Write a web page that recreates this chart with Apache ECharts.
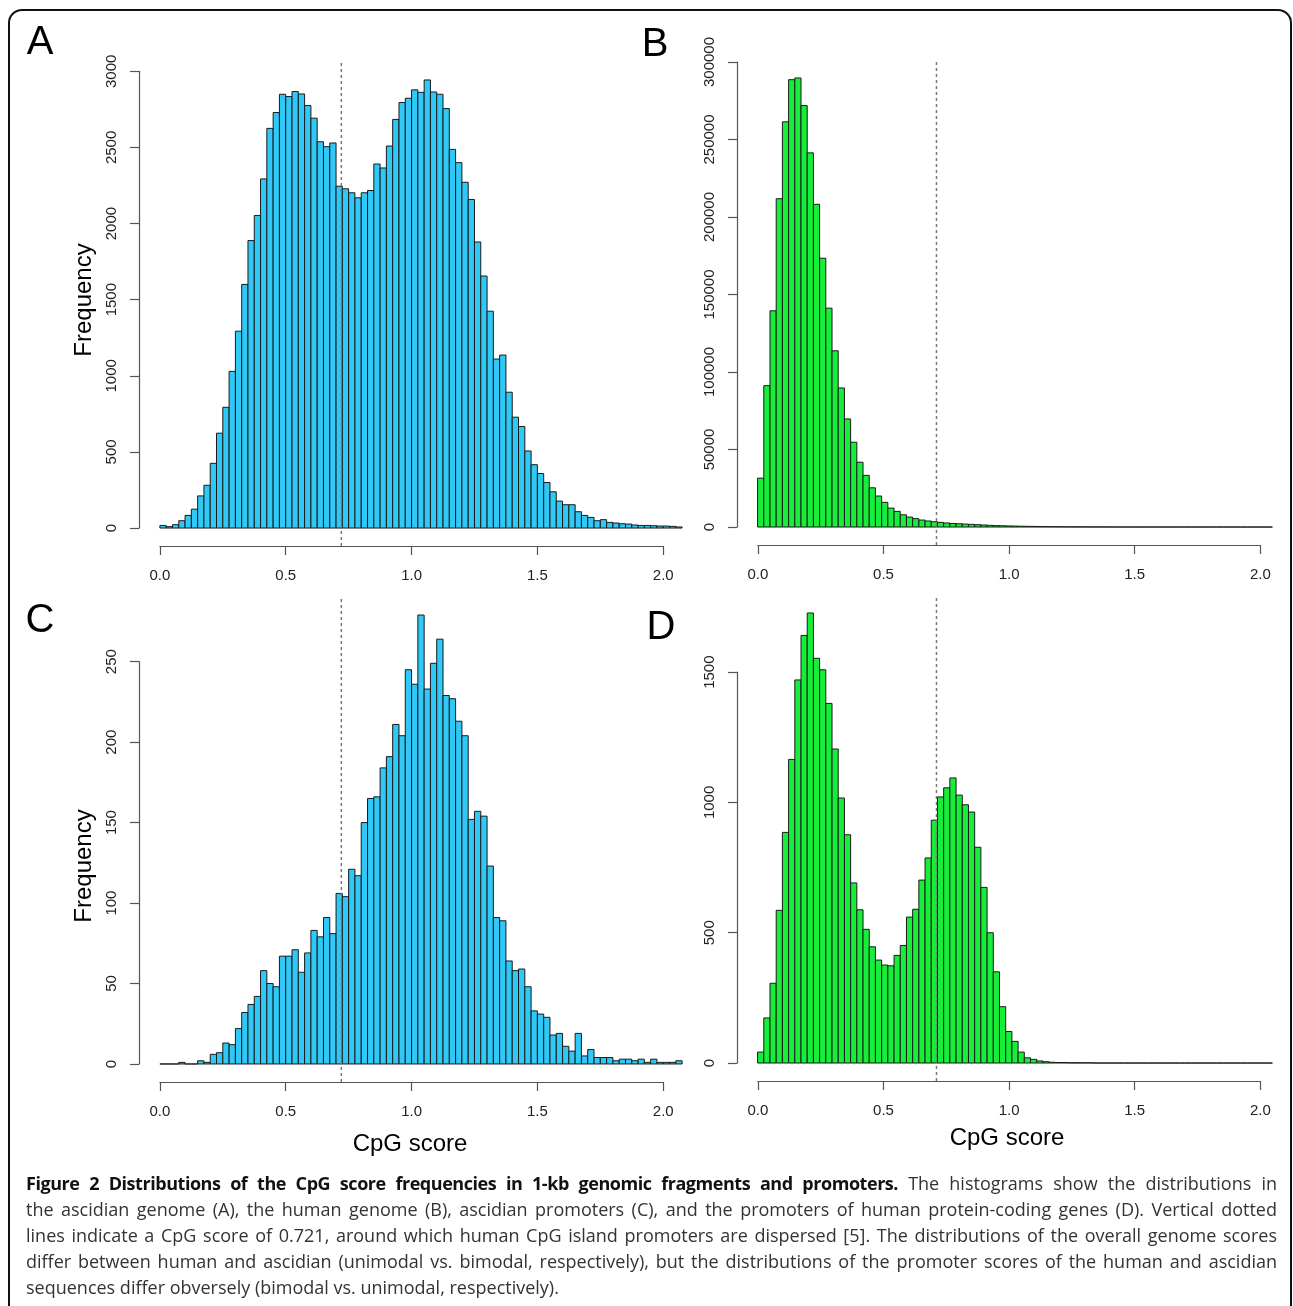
<!DOCTYPE html>
<html>
<head>
<meta charset="utf-8">
<script src="https://cdn.jsdelivr.net/npm/echarts@6/dist/echarts.min.js"></script>
<style>
  html, body { margin: 0; padding: 0; background: #fff; }
  #wrap { position: relative; width: 1293px; height: 1306px; overflow: hidden; }
  #chart { position: absolute; left: 0; top: 0; width: 1293px; height: 1306px; }
  #caption { position: absolute; left: 26px; top: 1170px; width: 1251px;
    font-family: "Open Sans", "Noto Sans", sans-serif; font-size: 18px; line-height: 26px; color: #333; }
  #caption div { text-align: justify; text-align-last: justify; }
  #caption div.last { text-align-last: left; }
  #caption b { color: #111; letter-spacing: -0.45px; }
</style>
</head>
<body>
<div id="wrap">
  <div id="chart"></div>
  <div id="caption">
    <div><b>Figure 2 Distributions of the CpG score frequencies in 1-kb genomic fragments and promoters.</b> The histograms show the distributions in</div>
    <div>the ascidian genome (A), the human genome (B), ascidian promoters (C), and the promoters of human protein-coding genes (D). Vertical dotted</div>
    <div>lines indicate a CpG score of 0.721, around which human CpG island promoters are dispersed [5]. The distributions of the overall genome scores</div>
    <div>differ between human and ascidian (unimodal vs. bimodal, respectively), but the distributions of the promoter scores of the human and ascidian</div>
    <div class="last">sequences differ obversely (bimodal vs. unimodal, respectively).</div>
  </div>
</div>
<script>
// histogram breaks: 0, 0.025, 0.05, ... (83 bins up to 2.075)
var binWidth = 0.025;
var cutoff = 0.721;

// A: ascidian genome
var countsA = [17, 9, 22, 48, 83, 124, 211, 281, 425, 623,
  793, 1029, 1293, 1600, 1888, 2053, 2293, 2625, 2729, 2849,
  2834, 2867, 2851, 2775, 2692, 2537, 2505, 2529, 2245, 2228,
  2202, 2169, 2202, 2217, 2391, 2365, 2509, 2684, 2795, 2823,
  2878, 2862, 2943, 2864, 2849, 2755, 2487, 2400, 2271, 2158,
  1879, 1655, 1424, 1110, 1136, 892, 728, 667, 506, 416,
  358, 299, 238, 177, 153, 153, 107, 83, 70, 48,
  55, 37, 33, 28, 26, 20, 17, 17, 15, 13,
  13, 11, 7];
// B: human genome
var countsB = [31550, 91200, 139500, 211800, 261400, 288600, 289700, 271900, 241400, 208200,
  173400, 141200, 113700, 89700, 69700, 54700, 41800, 33300, 25300, 20000,
  15900, 12200, 10100, 7900, 6400, 5400, 4500, 3900, 3400, 3000,
  2600, 2300, 2100, 1900, 1700, 1500, 1300, 1100, 900, 800,
  700, 600, 520, 450, 380, 320, 270, 230, 190, 160,
  130, 110, 95, 80, 68, 57, 48, 40, 34, 28,
  24, 20, 17, 14, 12, 10, 9, 8, 7, 6,
  5, 5, 4, 4, 3, 3, 3, 2, 2, 2,
  2, 1, 1];
// C: ascidian promoters
var countsC = [0, 0, 0, 1, 0, 0, 2, 1, 6, 7,
  13, 12, 22, 32, 37, 42, 58, 50, 48, 67,
  67, 71, 57, 69, 83, 79, 91, 81, 106, 104,
  121, 117, 150, 165, 166, 184, 191, 211, 204, 245,
  236, 279, 233, 249, 264, 229, 227, 213, 204, 152,
  157, 154, 123, 91, 89, 64, 58, 59, 48, 33,
  31, 29, 18, 19, 11, 8, 19, 5, 9, 4,
  4, 4, 2, 3, 3, 2, 3, 1, 3, 1,
  1, 1, 2];
// D: human protein-coding gene promoters
var countsD = [42, 173, 306, 586, 885, 1165, 1470, 1641, 1727, 1553,
  1509, 1380, 1205, 1017, 876, 691, 588, 513, 446, 395,
  376, 373, 413, 451, 560, 590, 702, 787, 932, 1021,
  1056, 1094, 1028, 991, 963, 828, 674, 500, 350, 216,
  121, 83, 42, 20, 14, 8, 5, 3, 2, 2,
  1, 1, 1, 1, 0, 0, 0, 0, 0, 0,
  0, 0, 0, 0, 0, 0, 0, 0, 0, 0,
  0, 0, 0, 0, 0, 0, 0, 0, 0, 0,
  0, 0, 0];

var xTicks = [0, 0.5, 1.0, 1.5, 2.0];
var yTicksA = [0, 500, 1000, 1500, 2000, 2500, 3000];
var yTicksB = [0, 50000, 100000, 150000, 200000, 250000, 300000];
var yTicksC = [0, 50, 100, 150, 200, 250];
var yTicksD = [0, 500, 1000, 1500];

var blue = '#30c8f6';
var green = '#16ee3a';
var axisCol = '#555';
var font = '"Liberation Sans", Arial, sans-serif';

var panels = [
  { letter: 'A', counts: countsA, color: blue, box: [139, 62, 564, 484], yr: [-118, 3061], yTicks: yTicksA, lx: 40, ly: 43 },
  { letter: 'B', counts: countsB, color: green, box: [737, 60, 563, 485], yr: [-11600, 301300], yTicks: yTicksB, lx: 655, ly: 45 },
  { letter: 'C', counts: countsC, color: blue, box: [139, 597, 564, 485], yr: [-11.2, 290.2], yTicks: yTicksC, lx: 40, ly: 621 },
  { letter: 'D', counts: countsD, color: green, box: [737, 595, 563, 486], yr: [-69, 1796], yTicks: yTicksD, lx: 661, ly: 628 }
];
var xr = [-0.083, 2.158];

function pxX(p, v) { return p.box[0] + p.box[2] * (v - xr[0]) / (xr[1] - xr[0]); }
function pxY(p, v) { return p.box[1] + p.box[3] * (p.yr[1] - v) / (p.yr[1] - p.yr[0]); }

var grids = [], xAxes = [], yAxes = [], series = [], graphics = [];

panels.forEach(function (p, i) {
  var g = grids.length;
  // data grid (hidden axes)
  grids.push({ left: p.box[0], top: p.box[1], width: p.box[2], height: p.box[3] });
  xAxes.push({ gridIndex: g, type: 'value', min: xr[0], max: xr[1], show: false });
  yAxes.push({ gridIndex: g, type: 'value', min: p.yr[0], max: p.yr[1], show: false });

  // x axis drawn R style: only between first and last tick
  var x0 = pxX(p, xTicks[0]), x1 = pxX(p, xTicks[xTicks.length - 1]);
  var bottom = p.box[1] + p.box[3];
  grids.push({ left: x0, top: bottom - 10, width: x1 - x0, height: 10 });
  xAxes.push({
    gridIndex: g + 1, type: 'value', min: xTicks[0], max: xTicks[xTicks.length - 1],
    interval: xTicks[1] - xTicks[0],
    axisLine: { lineStyle: { color: axisCol, width: 1.2 } },
    axisTick: { length: 9, lineStyle: { color: axisCol, width: 1.2 } },
    axisLabel: { margin: 22, color: '#222', fontSize: 15, fontFamily: font,
      formatter: function (v) { return v.toFixed(1); } },
    splitLine: { show: false }
  });
  yAxes.push({ gridIndex: g + 1, type: 'value', show: false });

  // y axis
  var yt = p.yTicks;
  var yTop = pxY(p, yt[yt.length - 1]), yBot = pxY(p, yt[0]);
  grids.push({ left: p.box[0], top: yTop, width: 10, height: yBot - yTop });
  xAxes.push({ gridIndex: g + 2, type: 'value', show: false });
  yAxes.push({
    gridIndex: g + 2, type: 'value', min: yt[0], max: yt[yt.length - 1],
    interval: yt[1] - yt[0], position: 'left',
    axisLine: { show: true, lineStyle: { color: axisCol, width: 1.2 } },
    axisTick: { show: true, length: 9, lineStyle: { color: axisCol, width: 1.2 } },
    axisLabel: { margin: 20, rotate: 90, color: '#222', fontSize: 15, fontFamily: font,
      formatter: function (v) { return String(v); } },
    splitLine: { show: false }
  });

  series.push({
    type: 'custom',
    xAxisIndex: g, yAxisIndex: g,
    silent: true,
    data: p.counts.map(function (c, k) { return [k * binWidth, (k + 1) * binWidth, c]; }),
    encode: { x: [0, 1], y: 2 },
    renderItem: function (params, api) {
      var a = api.coord([api.value(0), api.value(2)]);
      var b = api.coord([api.value(1), 0]);
      return {
        type: 'rect',
        shape: { x: a[0], y: a[1], width: b[0] - a[0], height: b[1] - a[1] },
        style: { fill: p.color, stroke: '#1a1a1a', lineWidth: 1 }
      };
    }
  });
  series.push({
    type: 'line',
    xAxisIndex: g, yAxisIndex: g,
    silent: true, symbol: 'none',
    data: [[cutoff, p.yr[0]], [cutoff, p.yr[1]]],
    lineStyle: { color: '#777', width: 1.5, type: [3, 3] }
  });

  graphics.push({
    type: 'text', x: p.lx, y: p.ly,
    style: { text: p.letter, fontSize: 40, fontFamily: font, fill: '#000', align: 'center', verticalAlign: 'middle' }
  });
});

// axis titles
graphics.push({ type: 'text', x: 84, y: 300, rotation: Math.PI / 2,
  style: { text: 'Frequency', fontSize: 24, fontFamily: font, fill: '#000', align: 'center', verticalAlign: 'middle' } });
graphics.push({ type: 'text', x: 84, y: 866, rotation: Math.PI / 2,
  style: { text: 'Frequency', fontSize: 24, fontFamily: font, fill: '#000', align: 'center', verticalAlign: 'middle' } });
graphics.push({ type: 'text', x: 410, y: 1144,
  style: { text: 'CpG score', fontSize: 24, fontFamily: font, fill: '#000', align: 'center', verticalAlign: 'middle' } });
graphics.push({ type: 'text', x: 1007, y: 1138,
  style: { text: 'CpG score', fontSize: 24, fontFamily: font, fill: '#000', align: 'center', verticalAlign: 'middle' } });

// figure frame
graphics.push({ type: 'rect', shape: { x: 9, y: 10, width: 1282, height: 1320, r: 13 },
  style: { fill: 'none', stroke: '#111', lineWidth: 2 }, silent: true });

var chart = echarts.init(document.getElementById('chart'), null, { renderer: 'canvas' });
chart.setOption({
  animation: false,
  backgroundColor: '#fff',
  grid: grids,
  xAxis: xAxes,
  yAxis: yAxes,
  series: series,
  graphic: graphics
});
</script>
</body>
</html>
